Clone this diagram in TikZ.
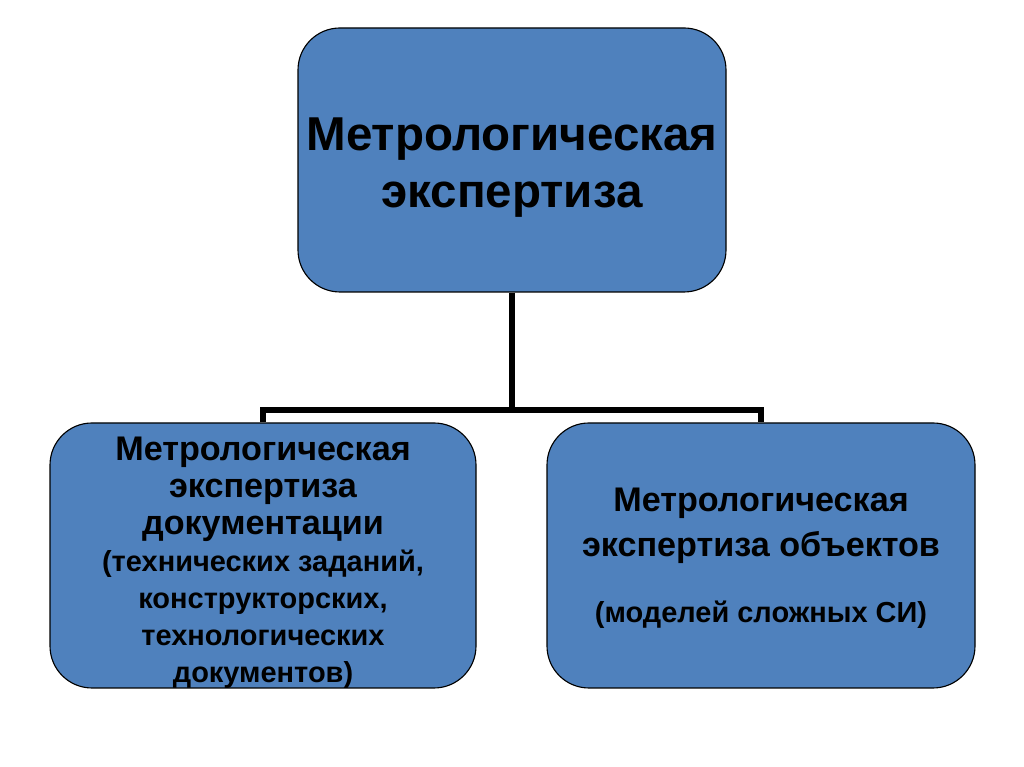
\documentclass[tikz,border=0pt]{standalone}
\usepackage{fontspec}
\setmainfont{Liberation Sans}
\definecolor{boxblue}{HTML}{4F81BD}
\newcommand{\smalltxt}{\fontsize{20.6}{25}\selectfont}
\begin{document}
\begin{tikzpicture}[
    box/.style={rectangle, draw=black, line width=0.8pt, fill=boxblue,
      rounded corners=1.05cm, align=center},
    conn/.style={line width=4.3pt, line join=miter}
  ]
  \useasboundingbox (0,0) rectangle (25.6,19.175);
  % top box
  \node[box, minimum width=10.7cm, minimum height=6.6cm,
    font=\bfseries\fontsize{33.8}{40.5}\selectfont] (expert) at (12.8,15.175)
    {\rule{0pt}{34pt}Метрологическая\\экспертиза};

  % lower boxes
  \node[box, minimum width=10.65cm, minimum height=6.625cm, inner ysep=1pt, text depth=0pt,
    font=\bfseries\fontsize{24.3}{26.3}\selectfont] (docs) at (6.575,5.2875)
    {\rule{0pt}{23pt}Метрологическая\\экспертиза\\документации\\
     \smalltxt (технических заданий,\\\smalltxt конструкторских,\\
     \smalltxt технологических\\\smalltxt документов)};
  \node[box, minimum width=10.7cm, minimum height=6.625cm,
    font=\bfseries\fontsize{24.3}{32}\selectfont] (objects) at (19.025,5.2875)
    {\rule{0pt}{21pt}Метрологическая\\экспертиза объектов\\[15pt]
     \smalltxt (моделей сложных СИ)};

  % connectors
  \coordinate (fork) at (12.8,8.925);
  \draw[conn] (expert.south) -- (fork);
  \draw[conn] (docs.north) |- (fork) -| (objects.north);
\end{tikzpicture}
\end{document}
